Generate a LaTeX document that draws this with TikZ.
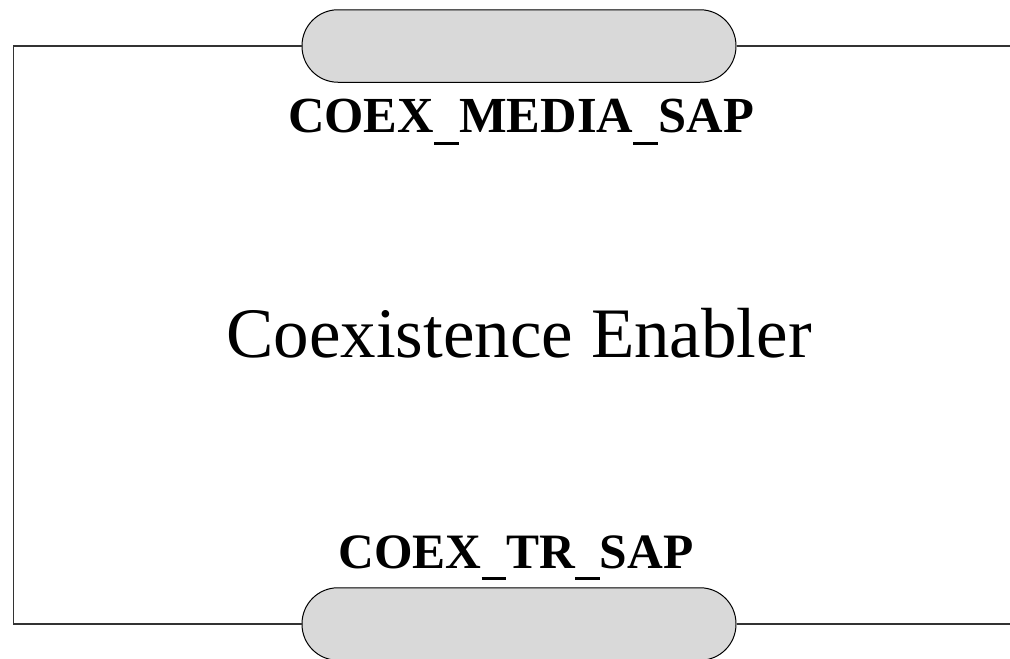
\documentclass[tikz,border=0pt]{standalone}
\usepackage{fontspec}
\setmainfont{Liberation Serif}
\usepackage{tikz}

\newcommand{\sapunder}{\rule[-0.25em]{0.5em}{0.06em}}

\begin{document}
\begin{tikzpicture}[x=1pt,y=-1pt]
	\useasboundingbox (0,0) rectangle (1010,659);
	\begin{scope}[every node/.style={draw=black,fill=black!15,line width=1pt,rounded corners=36pt,minimum width=434pt,minimum height=72.5pt,inner sep=0pt}]
		\node (M) at (519,46) {};
		\node (T) at (519,624) {};
	\end{scope}
	
	\begin{scope}[every node/.style={anchor=base,inner sep=0pt}]
		\node (ML) at (521,132) {\fontsize{50.5}{60}\selectfont\bfseries COEX\sapunder MEDIA\sapunder SAP};
		\node (CE) at (519,357) {\fontsize{71}{80}\selectfont Coexistence Enabler};
		\node (TL) at (516,568) {\fontsize{49.5}{60}\selectfont\bfseries COEX\sapunder TR\sapunder SAP};
	\end{scope}
	
	\coordinate (TLc) at (13.5,46);
	\coordinate (BLc) at (13.5,624);
	\coordinate (TRc) at (1012,46);
	\coordinate (BRc) at (1012,624);
	
	\begin{scope}[every path/.style={draw=black!80,line width=1.3pt}]
		\path (M.west) -- (TLc) -- (BLc) -- (T.west);
		\path (M.east) -- (TRc);
		\path (T.east) -- (BRc);
	\end{scope}
\end{tikzpicture}
\end{document}
